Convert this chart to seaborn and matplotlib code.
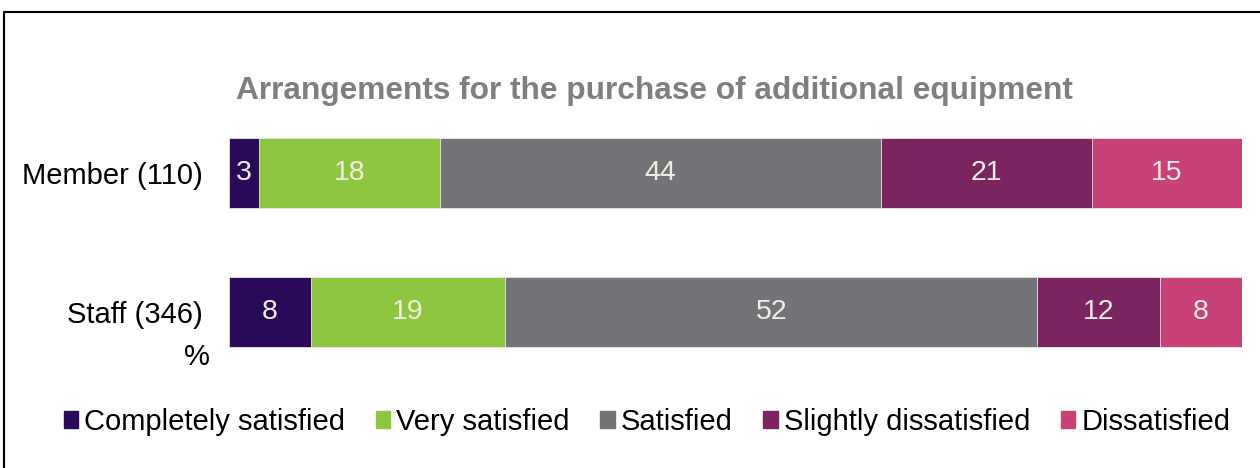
import numpy as np
import pandas as pd
import matplotlib.pyplot as plt
import matplotlib.patches as mpatches
import seaborn as sns

groups = ['Member (110)', 'Staff (346)']
categories = ['Completely satisfied', 'Very satisfied', 'Satisfied',
              'Slightly dissatisfied', 'Dissatisfied']
completely = [3, 8]
very = [18, 19]
satisfied = [44, 52]
slightly = [21, 12]
dissatisfied = [15, 8]
colors = ['#290a59', '#8dc63f', '#737477', '#7b2560', '#c84278']

df = pd.DataFrame({'Completely satisfied': completely, 'Very satisfied': very,
                   'Satisfied': satisfied, 'Slightly dissatisfied': slightly,
                   'Dissatisfied': dissatisfied}, index=groups)
# 100% stacked, like the original
share = df.div(df.sum(axis=1), axis=0) * 100
cum = share.cumsum(axis=1)

sns.set_style('white')
plt.rcParams['font.family'] = ['Liberation Sans', 'DejaVu Sans']
plt.rcParams['text.color'] = 'black'
plt.rcParams['ytick.color'] = 'black'

fig = plt.figure(figsize=(12.6, 4.68), dpi=100)
ax = fig.add_axes([229 / 1260, 1 - 381.5 / 468, 1013 / 1260, 278 / 468])

# draw widest cumulative first so narrower ones sit on top
for cat, col in reversed(list(zip(categories, colors))):
    sns.barplot(x=cum[cat].values, y=groups, color=col, orient='h',
                width=0.5, saturation=1, edgecolor='#f0e6ee', linewidth=0.6, ax=ax)

for i, g in enumerate(groups):
    left = 0
    for cat in categories:
        w = share.loc[g, cat]
        ax.text(left + w / 2, i, str(df.loc[g, cat]), ha='center', va='center',
                color='#f2ede3', fontsize=20.5)
        left += w

ax.set_xlim(0, 100)
ax.set_ylim(1.5, -0.5)
ax.set_xlabel('')
ax.set_ylabel('')
ax.set_xticks([])
ax.tick_params(axis='y', length=0, pad=19, labelsize=21, labelcolor='black')
for s in ax.spines.values():
    s.set_visible(False)

fig.text(0.519, 1 - 91 / 468, 'Arrangements for the purchase of additional equipment',
         ha='center', va='center', fontsize=22.8, fontweight='bold', color='#7f7f7f')
fig.text(197 / 1260, 1 - 357 / 468, '%', ha='center', va='center', fontsize=21)

# outer frame (open to the right and bottom, as cropped)
fig.add_artist(plt.Line2D([4 / 1260, 4 / 1260], [-0.05, 1 - 12 / 468], color='black',
                          lw=1.5, transform=fig.transFigure))
fig.add_artist(plt.Line2D([4 / 1260, 1.05], [1 - 12 / 468, 1 - 12 / 468], color='black',
                          lw=1.5, transform=fig.transFigure))

handles = [mpatches.Patch(color=c, label=l) for l, c in zip(categories, colors)]
fig.legend(handles=handles, loc='center', bbox_to_anchor=(647 / 1260, 1 - 422 / 468),
           ncol=5, frameon=False, fontsize=21, handlelength=0.5, handleheight=0.5,
           handletextpad=0.2, columnspacing=1.05)

fig.savefig('out.png', dpi=100)
